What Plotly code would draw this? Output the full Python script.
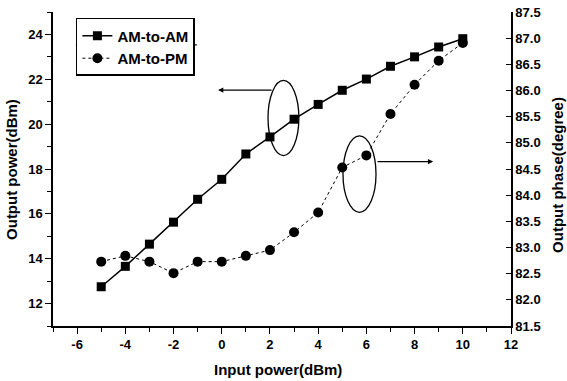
import plotly.graph_objects as go

x_in = [-5, -4, -3, -2, -1, 0, 1, 2, 3, 4, 5, 6, 7, 8, 9, 10]
am_am = [12.75, 13.66, 14.65, 15.63, 16.65, 17.54, 18.67, 19.43, 20.22, 20.88,
         21.51, 22.01, 22.58, 23.0, 23.44, 23.81]
am_pm = [82.73, 82.84, 82.73, 82.51, 82.73, 82.73, 82.84, 82.95, 83.29, 83.67,
         84.53, 84.76, 85.55, 86.11, 86.57, 86.91]
x_ticks = [-6, -4, -2, 0, 2, 4, 6, 8, 10, 12]
x_tick_labels = ["-6", "-4", "-2", "0", "2", "4", "6", "8", "10", "12"]

FONT = "Liberation Sans"

fig = go.Figure()
fig.add_trace(go.Scatter(
    x=x_in, y=am_am, name="<b>AM-to-AM</b>", mode="lines+markers",
    line=dict(color="black", width=1.5),
    marker=dict(symbol="square", size=9, color="black"),
))
fig.add_trace(go.Scatter(
    x=x_in, y=am_pm, name="<b>AM-to-PM</b>", mode="lines+markers", yaxis="y2",
    line=dict(color="black", width=1, dash="dot"),
    marker=dict(symbol="circle", size=10, color="black"),
))

tickfont = dict(family=FONT, size=13, color="black", weight="bold")
axis_common = dict(
    showline=True, linecolor="black", linewidth=1.5, showgrid=False, zeroline=False,
    tickfont=tickfont, tickcolor="black", ticklen=6, tickwidth=1.2, automargin=False,
)

fig.update_layout(
    width=567, height=381,
    margin=dict(l=53, r=56, t=12, b=55, autoexpand=False),
    paper_bgcolor="white", plot_bgcolor="white",
    font=dict(family=FONT, color="black"),
    xaxis=dict(range=[-7, 12], tickvals=x_ticks, ticktext=x_tick_labels, ticks="outside",
               minor=dict(dtick=1, tick0=0, ticks="outside", ticklen=4, tickcolor="black"),
               **axis_common),
    yaxis=dict(range=[11, 25], dtick=2, tick0=0, ticks="outside",
               minor=dict(dtick=1, ticks="outside", ticklen=4, tickcolor="black"),
               **axis_common),
    yaxis2=dict(range=[81.5, 87.5], dtick=0.5, tick0=81.5, tickformat=".1f",
                overlaying="y", side="right", ticks="inside", ticklen=5,
                showline=True, linecolor="black", linewidth=1.5, showgrid=False, zeroline=False,
                tickfont=tickfont, tickcolor="black", tickwidth=1.2, automargin=False),
    legend=dict(x=0.05, y=0.981, xanchor="left", yanchor="top",
                bordercolor="black", borderwidth=1.5, bgcolor="white",
                font=dict(family=FONT, size=15, color="black"),
                tracegroupgap=0, itemwidth=30),
    showlegend=True,
)

# Axis titles
fig.add_annotation(text="<b>Input power(dBm)</b>", xref="paper", yref="paper",
                   x=0.492, y=-0.14, showarrow=False, xanchor="center", yanchor="middle",
                   font=dict(family=FONT, size=15, color="black"))
fig.add_annotation(text="<b>Output power(dBm)</b>", xref="paper", yref="paper",
                   x=-0.0895, y=0.497, showarrow=False, textangle=-90,
                   xanchor="center", yanchor="middle",
                   font=dict(family=FONT, size=15, color="black"))
fig.add_annotation(text="<b>Output phase(degree)</b>", xref="paper", yref="paper",
                   x=1.1025, y=0.481, showarrow=False, textangle=-90,
                   xanchor="center", yanchor="middle",
                   font=dict(family=FONT, size=15, color="black"))

# Separator between legend rows
fig.add_shape(type="line", xref="paper", yref="paper", x0=0.05, x1=0.314,
              y0=0.895, y1=0.895, line=dict(color="black", width=1.2))

# Ellipses marking which curve belongs to which axis
fig.add_shape(type="circle", xref="x", yref="y", x0=1.92, x1=3.2, y0=18.6, y1=21.95,
              line=dict(color="black", width=1.3))
fig.add_shape(type="circle", xref="x", yref="y", x0=5.03, x1=6.4, y0=16.07, y1=19.48,
              line=dict(color="black", width=1.3))

# Arrows
fig.add_annotation(x=-0.15, y=21.52, ax=2.13, ay=21.52, xref="x", yref="y",
                   axref="x", ayref="y", showarrow=True, arrowhead=2, arrowsize=0.8,
                   arrowwidth=1.3, arrowcolor="black", text="")
fig.add_annotation(x=8.77, y=18.33, ax=6.4, ay=18.33, xref="x", yref="y",
                   axref="x", ayref="y", showarrow=True, arrowhead=2, arrowsize=0.8,
                   arrowwidth=1.3, arrowcolor="black", text="")

fig.write_html("out.html", config={"displayModeBar": False},
               post_script="document.body.style.margin='0';")
